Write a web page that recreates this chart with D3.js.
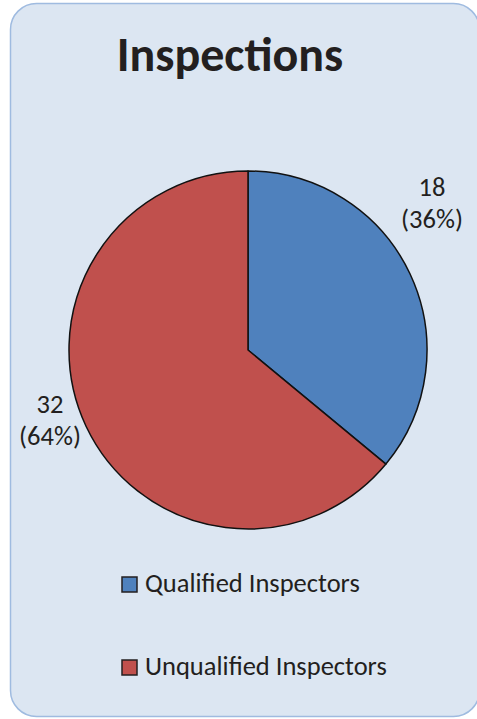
<!DOCTYPE html>
<html>
<head>
<meta charset="utf-8">
<script src="https://cdn.jsdelivr.net/npm/d3@7"></script>
<style>
html,body{margin:0;padding:0;background:#fff;}
svg{display:block;}
text{font-family:Carlito, Calibri, Lato, "Open Sans", sans-serif;fill:#231f20;}
</style>
</head>
<body>
<svg id="chart" width="477" height="719"></svg>
<script>
const title = "Inspections";
const categories = ["Qualified Inspectors", "Unqualified Inspectors"];
const values = [18, 32];
const colors = ["#4f81bd", "#c0504d"];

const svg = d3.select("#chart");

// background panel
svg.append("rect")
  .attr("x", 10.5).attr("y", 3.5)
  .attr("width", 469).attr("height", 713)
  .attr("rx", 26).attr("ry", 26)
  .attr("fill", "#dce6f2")
  .attr("stroke", "#9fbbe0")
  .attr("stroke-width", 1.5);

svg.append("text")
  .attr("x", 230).attr("y", 71)
  .attr("text-anchor", "middle")
  .attr("font-size", 48)
  .attr("font-weight", "bold")
  .text(title);

const cx = 248, cy = 350, r = 179;
const total = d3.sum(values);
const pie = d3.pie().sort(null).value(d => d)(values);
const arc = d3.arc().innerRadius(0).outerRadius(r);

const g = svg.append("g").attr("transform", `translate(${cx},${cy})`);
g.selectAll("path").data(pie).enter().append("path")
  .attr("d", arc)
  .attr("fill", (d, i) => colors[i])
  .attr("stroke", "#111")
  .attr("stroke-width", 1.5)
  .attr("stroke-linejoin", "round");

// data labels
const labelPos = [[432 - cx, 196 - cy], [50 - cx, 413 - cy]];
pie.forEach((d, i) => {
  const t = g.append("text")
    .attr("text-anchor", "middle")
    .attr("font-size", 26.5);
  t.append("tspan").attr("x", labelPos[i][0]).attr("y", labelPos[i][1])
    .text(values[i]);
  t.append("tspan").attr("x", labelPos[i][0]).attr("y", labelPos[i][1] + 32)
    .text("(" + Math.round(values[i] / total * 100) + "%)");
});

// legend
const legendY = [592, 675];
categories.forEach((c, i) => {
  svg.append("rect")
    .attr("x", 122).attr("y", legendY[i] - 15)
    .attr("width", 15).attr("height", 15)
    .attr("fill", colors[i])
    .attr("stroke", "#231f20")
    .attr("stroke-width", 1.5);
  svg.append("text")
    .attr("x", 145).attr("y", legendY[i])
    .attr("font-size", 26.5)
    .text(c);
});
</script>
</body>
</html>
